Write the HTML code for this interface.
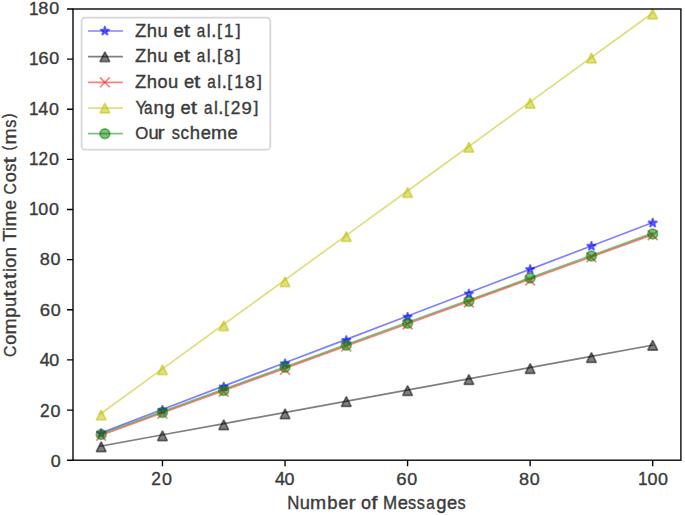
<!DOCTYPE html>
<html><head><meta charset="utf-8"><title>Computation Time Cost vs Number of Messages</title><style>
html,body{margin:0;padding:0;background:#fff;width:685px;height:515px;overflow:hidden}
svg{display:block}
text{font-family:"Liberation Sans",sans-serif}
</style></head><body>
<svg width="685" height="515" viewBox="0 0 685 515" role="img" aria-label="Computation Time Cost (ms) versus Number of Messages">

<g>
<rect width="685" height="515" fill="#fff"/>
<defs><clipPath id="ax"><rect x="72.39" y="7.9" width="607.9" height="451.93"/></clipPath></defs>
<g clip-path="url(#ax)">
<polyline points="100.02,433.22 161.42,409.81 222.83,386.41 284.23,363 345.64,339.6 407.04,316.19 468.44,292.79 529.85,269.38 591.25,245.97 652.66,222.57" fill="none" stroke="#0000ff" stroke-opacity=".5" stroke-width="1.7" stroke-linejoin="round" stroke-linecap="square"/>
<polygon points="101.19,428.4 100.09,431.78 96.53,431.78 99.41,433.88 98.31,437.26 101.19,435.17 104.07,437.26 102.97,433.88 105.85,431.78 102.29,431.78" fill="#0000ff" fill-opacity=".5" stroke="#0000ff" stroke-opacity=".5" stroke-width="1.7" stroke-linejoin="bevel"/>
<polygon points="162.47,405.17 161.37,408.55 157.81,408.55 160.69,410.64 159.59,414.03 162.47,411.94 165.35,414.03 164.25,410.64 167.13,408.55 163.57,408.55" fill="#0000ff" fill-opacity=".5" stroke="#0000ff" stroke-opacity=".5" stroke-width="1.7" stroke-linejoin="bevel"/>
<polygon points="223.75,381.93 222.65,385.32 219.09,385.32 221.97,387.41 220.87,390.8 223.75,388.71 226.63,390.8 225.53,387.41 228.41,385.32 224.85,385.32" fill="#0000ff" fill-opacity=".5" stroke="#0000ff" stroke-opacity=".5" stroke-width="1.7" stroke-linejoin="bevel"/>
<polygon points="285.03,358.7 283.93,362.09 280.37,362.09 283.25,364.18 282.15,367.57 285.03,365.47 287.91,367.57 286.81,364.18 289.69,362.09 286.13,362.09" fill="#0000ff" fill-opacity=".5" stroke="#0000ff" stroke-opacity=".5" stroke-width="1.7" stroke-linejoin="bevel"/>
<polygon points="346.31,335.47 345.21,338.85 341.65,338.85 344.53,340.95 343.43,344.33 346.31,342.24 349.19,344.33 348.09,340.95 350.97,338.85 347.41,338.85" fill="#0000ff" fill-opacity=".5" stroke="#0000ff" stroke-opacity=".5" stroke-width="1.7" stroke-linejoin="bevel"/>
<polygon points="407.59,312.24 406.49,315.62 402.93,315.62 405.81,317.71 404.71,321.1 407.59,319.01 410.47,321.1 409.37,317.71 412.25,315.62 408.69,315.62" fill="#0000ff" fill-opacity=".5" stroke="#0000ff" stroke-opacity=".5" stroke-width="1.7" stroke-linejoin="bevel"/>
<polygon points="468.87,289 467.77,292.39 464.21,292.39 467.09,294.48 465.99,297.87 468.87,295.78 471.75,297.87 470.65,294.48 473.53,292.39 469.97,292.39" fill="#0000ff" fill-opacity=".5" stroke="#0000ff" stroke-opacity=".5" stroke-width="1.7" stroke-linejoin="bevel"/>
<polygon points="530.15,264.55 529.05,267.93 525.49,267.93 528.37,270.03 527.27,273.41 530.15,271.32 533.03,273.41 531.93,270.03 534.81,267.93 531.25,267.93" fill="#0000ff" fill-opacity=".5" stroke="#0000ff" stroke-opacity=".5" stroke-width="1.7" stroke-linejoin="bevel"/>
<polygon points="591.43,241.32 590.33,244.7 586.77,244.7 589.65,246.79 588.55,250.18 591.43,248.09 594.31,250.18 593.21,246.79 596.09,244.7 592.53,244.7" fill="#0000ff" fill-opacity=".5" stroke="#0000ff" stroke-opacity=".5" stroke-width="1.7" stroke-linejoin="bevel"/>
<polygon points="652.71,218.08 651.61,221.47 648.05,221.47 650.93,223.56 649.83,226.95 652.71,224.86 655.59,226.95 654.49,223.56 657.37,221.47 653.81,221.47" fill="#0000ff" fill-opacity=".5" stroke="#0000ff" stroke-opacity=".5" stroke-width="1.7" stroke-linejoin="bevel"/>
<polyline points="100.02,446.25 161.42,435.02 222.83,423.79 284.23,412.56 345.64,401.32 407.04,390.09 468.44,378.86 529.85,367.63 591.25,356.4 652.66,345.17" fill="none" stroke="#000000" stroke-opacity=".5" stroke-width="1.7" stroke-linejoin="round" stroke-linecap="square"/>
<polygon points="101.19,441.85 96.29,451.65 106.09,451.65" fill="#000000" fill-opacity=".5" stroke="#000000" stroke-opacity=".5" stroke-width="1.7" stroke-linejoin="bevel"/>
<polygon points="162.47,430.84 157.57,440.64 167.37,440.64" fill="#000000" fill-opacity=".5" stroke="#000000" stroke-opacity=".5" stroke-width="1.7" stroke-linejoin="bevel"/>
<polygon points="223.75,419.84 218.85,429.64 228.65,429.64" fill="#000000" fill-opacity=".5" stroke="#000000" stroke-opacity=".5" stroke-width="1.7" stroke-linejoin="bevel"/>
<polygon points="285.03,408.83 280.13,418.63 289.93,418.63" fill="#000000" fill-opacity=".5" stroke="#000000" stroke-opacity=".5" stroke-width="1.7" stroke-linejoin="bevel"/>
<polygon points="346.31,396.61 341.41,406.41 351.21,406.41" fill="#000000" fill-opacity=".5" stroke="#000000" stroke-opacity=".5" stroke-width="1.7" stroke-linejoin="bevel"/>
<polygon points="407.59,385.6 402.69,395.4 412.49,395.4" fill="#000000" fill-opacity=".5" stroke="#000000" stroke-opacity=".5" stroke-width="1.7" stroke-linejoin="bevel"/>
<polygon points="468.87,374.6 463.97,384.4 473.77,384.4" fill="#000000" fill-opacity=".5" stroke="#000000" stroke-opacity=".5" stroke-width="1.7" stroke-linejoin="bevel"/>
<polygon points="530.15,363.59 525.25,373.39 535.05,373.39" fill="#000000" fill-opacity=".5" stroke="#000000" stroke-opacity=".5" stroke-width="1.7" stroke-linejoin="bevel"/>
<polygon points="591.43,352.59 586.53,362.39 596.33,362.39" fill="#000000" fill-opacity=".5" stroke="#000000" stroke-opacity=".5" stroke-width="1.7" stroke-linejoin="bevel"/>
<polygon points="652.71,340.36 647.81,350.16 657.61,350.16" fill="#000000" fill-opacity=".5" stroke="#000000" stroke-opacity=".5" stroke-width="1.7" stroke-linejoin="bevel"/>
<polyline points="100.02,435.58 161.42,413.25 222.83,390.92 284.23,368.59 345.64,346.26 407.04,323.93 468.44,301.61 529.85,279.28 591.25,256.95 652.66,234.62" fill="none" stroke="#ff0000" stroke-opacity=".5" stroke-width="1.7" stroke-linejoin="round" stroke-linecap="square"/>
<path d="M96.29,430.84L106.09,440.64M96.29,440.64L106.09,430.84" stroke="#ff0000" stroke-opacity=".5" stroke-width="1.7" fill="none"/>
<path d="M157.57,408.83L167.37,418.63M157.57,418.63L167.37,408.83" stroke="#ff0000" stroke-opacity=".5" stroke-width="1.7" fill="none"/>
<path d="M218.85,386.83L228.65,396.63M218.85,396.63L228.65,386.83" stroke="#ff0000" stroke-opacity=".5" stroke-width="1.7" fill="none"/>
<path d="M280.13,364.82L289.93,374.62M280.13,374.62L289.93,364.82" stroke="#ff0000" stroke-opacity=".5" stroke-width="1.7" fill="none"/>
<path d="M341.41,341.58L351.21,351.38M341.41,351.38L351.21,341.58" stroke="#ff0000" stroke-opacity=".5" stroke-width="1.7" fill="none"/>
<path d="M402.69,319.57L412.49,329.37M402.69,329.37L412.49,319.57" stroke="#ff0000" stroke-opacity=".5" stroke-width="1.7" fill="none"/>
<path d="M463.97,297.56L473.77,307.36M463.97,307.36L473.77,297.56" stroke="#ff0000" stroke-opacity=".5" stroke-width="1.7" fill="none"/>
<path d="M525.25,275.55L535.05,285.35M525.25,285.35L535.05,275.55" stroke="#ff0000" stroke-opacity=".5" stroke-width="1.7" fill="none"/>
<path d="M586.53,252.32L596.33,262.12M586.53,262.12L596.33,252.32" stroke="#ff0000" stroke-opacity=".5" stroke-width="1.7" fill="none"/>
<path d="M647.81,230.31L657.61,240.11M647.81,240.11L657.61,230.31" stroke="#ff0000" stroke-opacity=".5" stroke-width="1.7" fill="none"/>
<polyline points="100.02,414.21 161.42,369.63 222.83,325.04 284.23,280.46 345.64,235.87 407.04,191.29 468.44,146.7 529.85,102.12 591.25,57.53 652.66,12.95" fill="none" stroke="#bfbf00" stroke-opacity=".5" stroke-width="1.7" stroke-linejoin="round" stroke-linecap="square"/>
<polygon points="101.19,410.06 96.29,419.86 106.09,419.86" fill="#bfbf00" fill-opacity=".5" stroke="#bfbf00" stroke-opacity=".5" stroke-width="1.7" stroke-linejoin="bevel"/>
<polygon points="162.47,364.82 157.57,374.62 167.37,374.62" fill="#bfbf00" fill-opacity=".5" stroke="#bfbf00" stroke-opacity=".5" stroke-width="1.7" stroke-linejoin="bevel"/>
<polygon points="223.75,320.8 218.85,330.6 228.65,330.6" fill="#bfbf00" fill-opacity=".5" stroke="#bfbf00" stroke-opacity=".5" stroke-width="1.7" stroke-linejoin="bevel"/>
<polygon points="285.03,276.78 280.13,286.58 289.93,286.58" fill="#bfbf00" fill-opacity=".5" stroke="#bfbf00" stroke-opacity=".5" stroke-width="1.7" stroke-linejoin="bevel"/>
<polygon points="346.31,231.53 341.41,241.33 351.21,241.33" fill="#bfbf00" fill-opacity=".5" stroke="#bfbf00" stroke-opacity=".5" stroke-width="1.7" stroke-linejoin="bevel"/>
<polygon points="407.59,187.51 402.69,197.31 412.49,197.31" fill="#bfbf00" fill-opacity=".5" stroke="#bfbf00" stroke-opacity=".5" stroke-width="1.7" stroke-linejoin="bevel"/>
<polygon points="468.87,142.27 463.97,152.07 473.77,152.07" fill="#bfbf00" fill-opacity=".5" stroke="#bfbf00" stroke-opacity=".5" stroke-width="1.7" stroke-linejoin="bevel"/>
<polygon points="530.15,98.25 525.25,108.05 535.05,108.05" fill="#bfbf00" fill-opacity=".5" stroke="#bfbf00" stroke-opacity=".5" stroke-width="1.7" stroke-linejoin="bevel"/>
<polygon points="591.43,53.01 586.53,62.81 596.33,62.81" fill="#bfbf00" fill-opacity=".5" stroke="#bfbf00" stroke-opacity=".5" stroke-width="1.7" stroke-linejoin="bevel"/>
<polygon points="652.71,8.99 647.81,18.79 657.61,18.79" fill="#bfbf00" fill-opacity=".5" stroke="#bfbf00" stroke-opacity=".5" stroke-width="1.7" stroke-linejoin="bevel"/>
<polyline points="100.02,434.25 161.42,411.91 222.83,389.57 284.23,367.24 345.64,344.9 407.04,322.56 468.44,300.23 529.85,277.89 591.25,255.55 652.66,233.21" fill="none" stroke="#008000" stroke-opacity=".5" stroke-width="1.7" stroke-linejoin="round" stroke-linecap="square"/>
<circle cx="101.19" cy="434.52" r="4.9" fill="#008000" fill-opacity=".5" stroke="#008000" stroke-opacity=".5" stroke-width="1.7"/>
<circle cx="162.47" cy="412.51" r="4.9" fill="#008000" fill-opacity=".5" stroke="#008000" stroke-opacity=".5" stroke-width="1.7"/>
<circle cx="223.75" cy="390.5" r="4.9" fill="#008000" fill-opacity=".5" stroke="#008000" stroke-opacity=".5" stroke-width="1.7"/>
<circle cx="285.03" cy="367.27" r="4.9" fill="#008000" fill-opacity=".5" stroke="#008000" stroke-opacity=".5" stroke-width="1.7"/>
<circle cx="346.31" cy="345.26" r="4.9" fill="#008000" fill-opacity=".5" stroke="#008000" stroke-opacity=".5" stroke-width="1.7"/>
<circle cx="407.59" cy="323.25" r="4.9" fill="#008000" fill-opacity=".5" stroke="#008000" stroke-opacity=".5" stroke-width="1.7"/>
<circle cx="468.87" cy="301.24" r="4.9" fill="#008000" fill-opacity=".5" stroke="#008000" stroke-opacity=".5" stroke-width="1.7"/>
<circle cx="530.15" cy="278.01" r="4.9" fill="#008000" fill-opacity=".5" stroke="#008000" stroke-opacity=".5" stroke-width="1.7"/>
<circle cx="591.43" cy="256" r="4.9" fill="#008000" fill-opacity=".5" stroke="#008000" stroke-opacity=".5" stroke-width="1.7"/>
<circle cx="652.71" cy="233.99" r="4.9" fill="#008000" fill-opacity=".5" stroke="#008000" stroke-opacity=".5" stroke-width="1.7"/>
</g>
<rect x="73" y="9" width="607.9" height="451.2" fill="none" stroke="#000" stroke-width="1.36"/>
<path d="M162.47,460.2v5.94M285.03,460.2v5.94M407.59,460.2v5.94M530.15,460.2v5.94M652.71,460.2v5.94M73,460.2h-5.96M73,410.07h-5.96M73,359.93h-5.96M73,309.8h-5.96M73,259.67h-5.96M73,209.53h-5.96M73,159.4h-5.96M73,109.27h-5.96M73,59.13h-5.96M73,9h-5.96" stroke="#000" stroke-width="1.36" fill="none"/>
<rect x="81.58" y="17.56" width="188.74" height="132.06" rx="3.4" fill="#fff" stroke="#d6d6d6" stroke-width="1.7"/>
<path d="M88.93,31.01H122.02" stroke="#0000ff" stroke-opacity=".5" stroke-width="1.7" stroke-linecap="square"/>
<polygon points="104.87,26.11 103.77,29.5 100.21,29.5 103.09,31.59 101.99,34.97 104.87,32.88 107.75,34.97 106.65,31.59 109.53,29.5 105.97,29.5" fill="#0000ff" fill-opacity=".5" stroke="#0000ff" stroke-opacity=".5" stroke-width="1.7" stroke-linejoin="bevel"/>
<path d="M88.93,56.69H122.02" stroke="#000000" stroke-opacity=".5" stroke-width="1.7" stroke-linecap="square"/>
<polygon points="104.87,51.79 99.97,61.59 109.77,61.59" fill="#000000" fill-opacity=".5" stroke="#000000" stroke-opacity=".5" stroke-width="1.7" stroke-linejoin="bevel"/>
<path d="M88.93,82.37H122.02" stroke="#ff0000" stroke-opacity=".5" stroke-width="1.7" stroke-linecap="square"/>
<path d="M99.97,77.47L109.77,87.27M99.97,87.27L109.77,77.47" stroke="#ff0000" stroke-opacity=".5" stroke-width="1.7" fill="none"/>
<path d="M88.93,108.04H122.02" stroke="#bfbf00" stroke-opacity=".5" stroke-width="1.7" stroke-linecap="square"/>
<polygon points="104.87,103.14 99.97,112.94 109.77,112.94" fill="#bfbf00" fill-opacity=".5" stroke="#bfbf00" stroke-opacity=".5" stroke-width="1.7" stroke-linejoin="bevel"/>
<path d="M88.93,133.72H122.02" stroke="#008000" stroke-opacity=".5" stroke-width="1.7" stroke-linecap="square"/>
<circle cx="104.87" cy="133.72" r="4.9" fill="#008000" fill-opacity=".5" stroke="#008000" stroke-opacity=".5" stroke-width="1.7"/>
<g font-family="Liberation Sans, sans-serif" font-size="18" fill="#3a3a3a" stroke="#3a3a3a" stroke-width="0.35">
<g aria-label="20"><text transform="matrix(0.9607,0,0,0.9729,151.30,484.87)">2</text><text transform="matrix(0.9967,0,0,0.9595,161.89,484.70)">0</text></g>
<g aria-label="40"><text transform="matrix(0.9968,0,0,0.9874,274.97,484.87)">4</text><text transform="matrix(0.9967,0,0,0.9595,284.45,484.70)">0</text></g>
<g aria-label="60"><text transform="matrix(1.0316,0,0,0.9595,396.15,484.70)">6</text><text transform="matrix(0.9967,0,0,0.9595,407.17,484.70)">0</text></g>
<g aria-label="80"><text transform="matrix(1.0075,0,0,0.9595,518.94,484.70)">8</text><text transform="matrix(0.9967,0,0,0.9595,529.73,484.70)">0</text></g>
<g aria-label="100"><text transform="matrix(0.9519,0,0,0.9874,638.06,484.87)">1</text><text transform="matrix(0.9967,0,0,0.9595,647.39,484.70)">0</text><text transform="matrix(0.9967,0,0,0.9595,658.11,484.70)">0</text></g>
<g aria-label="Number of Messages"><text transform="matrix(0.9340,0,0,0.9874,287.35,508.70)">N</text><text transform="matrix(1.0194,0,0,1.0100,299.71,508.52)">u</text><text transform="matrix(1.0773,0,0,1.0100,309.99,508.70)">m</text><text transform="matrix(1.0287,0,0,1.0175,327.27,508.52)">b</text><text transform="matrix(1.0213,0,0,0.9920,338.20,508.52)">e</text><text transform="matrix(1.2115,0,0,1.0100,348.42,508.70)">r</text><text transform="matrix(1.0052,0,0,0.9920,360.95,508.52)">o</text><text transform="matrix(1.2415,0,0,1.0326,371.17,508.70)">f</text><text transform="matrix(0.9428,0,0,0.9874,383.00,508.70)">M</text><text transform="matrix(1.0213,0,0,0.9920,397.65,508.52)">e</text><text transform="matrix(0.9063,0,0,0.9946,408.07,508.52)">s</text><text transform="matrix(0.9063,0,0,0.9946,416.79,508.52)">s</text><text transform="matrix(0.8503,0,0,0.9920,426.31,508.52)">a</text><text transform="matrix(1.0277,0,0,1.0042,436.21,508.62)">g</text><text transform="matrix(1.0213,0,0,0.9920,446.98,508.52)">e</text><text transform="matrix(0.9063,0,0,0.9946,457.39,508.52)">s</text></g>
<g aria-label="0"><text transform="matrix(0.9967,0,0,0.9595,50.68,466.56)">0</text></g>
<g aria-label="20"><text transform="matrix(0.9607,0,0,0.9729,40.02,416.79)">2</text><text transform="matrix(0.9967,0,0,0.9595,50.61,416.62)">0</text></g>
<g aria-label="40"><text transform="matrix(0.9968,0,0,0.9874,39.65,366.26)">4</text><text transform="matrix(0.9967,0,0,0.9595,49.13,366.09)">0</text></g>
<g aria-label="60"><text transform="matrix(1.0316,0,0,0.9595,39.75,315.96)">6</text><text transform="matrix(0.9967,0,0,0.9595,50.77,315.96)">0</text></g>
<g aria-label="80"><text transform="matrix(1.0075,0,0,0.9595,39.73,264.60)">8</text><text transform="matrix(0.9967,0,0,0.9595,50.52,264.60)">0</text></g>
<g aria-label="100"><text transform="matrix(0.9519,0,0,0.9874,28.94,214.84)">1</text><text transform="matrix(0.9967,0,0,0.9595,38.26,214.67)">0</text><text transform="matrix(0.9967,0,0,0.9595,48.98,214.67)">0</text></g>
<g aria-label="120"><text transform="matrix(0.9519,0,0,0.9874,28.94,164.70)">1</text><text transform="matrix(0.9607,0,0,0.9729,38.38,164.70)">2</text><text transform="matrix(0.9967,0,0,0.9595,48.98,164.53)">0</text></g>
<g aria-label="140"><text transform="matrix(0.9519,0,0,0.9874,28.94,114.77)">1</text><text transform="matrix(0.9968,0,0,0.9874,38.29,114.77)">4</text><text transform="matrix(0.9967,0,0,0.9595,48.98,114.60)">0</text></g>
<g aria-label="160"><text transform="matrix(0.9519,0,0,0.9874,28.94,64.64)">1</text><text transform="matrix(1.0316,0,0,0.9595,38.13,64.47)">6</text><text transform="matrix(0.9967,0,0,0.9595,49.13,64.47)">0</text></g>
<g aria-label="180"><text transform="matrix(0.9519,0,0,0.9874,28.94,14.50)">1</text><text transform="matrix(1.0075,0,0,0.9595,38.36,14.33)">8</text><text transform="matrix(0.9967,0,0,0.9595,49.13,14.33)">0</text></g>
<g aria-label="Computation Time Cost (ms)"><text transform="matrix(0,-0.8757,0.9617,0,15.64,356.91)">C</text><text transform="matrix(0,-1.0028,0.9943,0,15.63,344.83)">o</text><text transform="matrix(0,-1.0748,1.0123,0,15.81,334.50)">m</text><text transform="matrix(0,-1.0263,1.0052,0,15.73,317.84)">p</text><text transform="matrix(0,-1.0171,1.0123,0,15.63,306.91)">u</text><text transform="matrix(0,-1.2608,1.0406,0,15.66,296.64)">t</text><text transform="matrix(0,-0.8483,0.9943,0,15.63,288.76)">a</text><text transform="matrix(0,-1.2608,1.0406,0,15.66,279.35)">t</text><text transform="matrix(0,-0.9643,1.0336,0,15.81,272.07)">i</text><text transform="matrix(0,-1.0028,0.9943,0,15.63,267.64)">o</text><text transform="matrix(0,-1.0171,1.0123,0,15.81,257.25)">n</text><text transform="matrix(0,-1.0289,0.9897,0,15.81,241.73)">T</text><text transform="matrix(0,-0.9643,1.0336,0,15.81,230.97)">i</text><text transform="matrix(0,-1.0748,1.0123,0,15.81,226.60)">m</text><text transform="matrix(0,-1.0189,0.9943,0,15.63,209.92)">e</text><text transform="matrix(0,-0.8757,0.9617,0,15.64,194.43)">C</text><text transform="matrix(0,-1.0028,0.9943,0,15.63,182.36)">o</text><text transform="matrix(0,-0.9042,0.9969,0,15.63,171.85)">s</text><text transform="matrix(0,-1.2608,1.0406,0,15.66,163.50)">t</text><text transform="matrix(0,-0.7974,0.8770,0,13.77,150.52)">(</text><text transform="matrix(0,-1.0748,1.0123,0,15.81,144.51)">m</text><text transform="matrix(0,-0.9042,0.9969,0,15.63,127.83)">s</text><text transform="matrix(0,-0.7974,0.8770,0,13.77,118.27)">)</text></g>
<g aria-label="Zhu et al.[1]"><text transform="matrix(1.0273,0,0,0.9874,135.09,36.71)">Z</text><text transform="matrix(1.0265,0,0,1.0312,146.65,36.71)">h</text><text transform="matrix(1.0194,0,0,1.0100,157.57,36.53)">u</text><text transform="matrix(1.0213,0,0,0.9920,173.57,36.54)">e</text><text transform="matrix(1.2637,0,0,1.0382,183.68,36.57)">t</text><text transform="matrix(0.8503,0,0,0.9920,196.87,36.54)">a</text><text transform="matrix(0.9665,0,0,1.0312,206.76,36.71)">l</text><text transform="matrix(1.0231,0,0,1.2705,211.27,36.71)">.</text><text transform="matrix(0.9850,0,0,0.9474,216.92,35.62)">[</text><text transform="matrix(0.9519,0,0,0.9874,223.95,36.71)">1</text><text transform="matrix(0.9850,0,0,0.9474,235.77,35.62)">]</text></g>
<g aria-label="Zhu et al.[8]"><text transform="matrix(1.0273,0,0,0.9874,135.09,61.79)">Z</text><text transform="matrix(1.0265,0,0,1.0312,146.65,61.79)">h</text><text transform="matrix(1.0194,0,0,1.0100,157.57,61.61)">u</text><text transform="matrix(1.0213,0,0,0.9920,173.57,61.62)">e</text><text transform="matrix(1.2637,0,0,1.0382,183.68,61.64)">t</text><text transform="matrix(0.8503,0,0,0.9920,196.87,61.62)">a</text><text transform="matrix(0.9665,0,0,1.0312,206.76,61.79)">l</text><text transform="matrix(1.0231,0,0,1.2705,211.27,61.79)">.</text><text transform="matrix(0.9850,0,0,0.9474,216.92,60.70)">[</text><text transform="matrix(1.0075,0,0,0.9595,223.72,61.62)">8</text><text transform="matrix(0.9850,0,0,0.9474,235.77,60.70)">]</text></g>
<g aria-label="Zhou et al.[18]"><text transform="matrix(1.0273,0,0,0.9874,135.09,87.87)">Z</text><text transform="matrix(1.0265,0,0,1.0312,146.65,87.87)">h</text><text transform="matrix(1.0052,0,0,0.9920,157.39,87.69)">o</text><text transform="matrix(1.0194,0,0,1.0100,168.03,87.69)">u</text><text transform="matrix(1.0213,0,0,0.9920,183.99,87.69)">e</text><text transform="matrix(1.2637,0,0,1.0382,194.05,87.72)">t</text><text transform="matrix(0.8503,0,0,0.9920,207.32,87.69)">a</text><text transform="matrix(0.9665,0,0,1.0312,217.32,87.87)">l</text><text transform="matrix(1.0231,0,0,1.2705,221.75,87.87)">.</text><text transform="matrix(0.9850,0,0,0.9474,227.32,86.77)">[</text><text transform="matrix(0.9519,0,0,0.9874,234.29,87.87)">1</text><text transform="matrix(1.0075,0,0,0.9595,245.02,87.70)">8</text><text transform="matrix(0.9850,0,0,0.9474,256.99,86.77)">]</text></g>
<g aria-label="Yang et al.[29]"><text transform="matrix(0.9329,0,0,0.9874,135.60,113.75)">Y</text><text transform="matrix(0.8503,0,0,0.9920,143.88,113.57)">a</text><text transform="matrix(1.0194,0,0,1.0100,153.61,113.75)">n</text><text transform="matrix(1.0277,0,0,1.0042,164.52,113.66)">g</text><text transform="matrix(1.0213,0,0,0.9920,180.62,113.57)">e</text><text transform="matrix(1.2637,0,0,1.0382,190.74,113.60)">t</text><text transform="matrix(0.8503,0,0,0.9920,203.93,113.57)">a</text><text transform="matrix(0.9665,0,0,1.0312,213.88,113.75)">l</text><text transform="matrix(1.0231,0,0,1.2705,218.29,113.75)">.</text><text transform="matrix(0.9850,0,0,0.9474,223.90,112.65)">[</text><text transform="matrix(0.9607,0,0,0.9729,230.80,113.75)">2</text><text transform="matrix(1.0295,0,0,0.9595,241.40,113.58)">9</text><text transform="matrix(0.9850,0,0,0.9474,253.44,112.65)">]</text></g>
<g aria-label="Our scheme"><text transform="matrix(0.9347,0,0,0.9595,135.27,138.66)">O</text><text transform="matrix(1.0194,0,0,1.0100,148.50,138.65)">u</text><text transform="matrix(1.2115,0,0,1.0100,157.44,138.82)">r</text><text transform="matrix(0.9063,0,0,0.9946,171.82,138.65)">s</text><text transform="matrix(0.9487,0,0,0.9920,180.49,138.65)">c</text><text transform="matrix(1.0265,0,0,1.0312,189.82,138.82)">h</text><text transform="matrix(1.0213,0,0,0.9920,200.63,138.65)">e</text><text transform="matrix(1.0773,0,0,1.0100,210.92,138.82)">m</text><text transform="matrix(1.0213,0,0,0.9920,227.60,138.65)">e</text></g>
</g>
</g>
</svg>
</body></html>
